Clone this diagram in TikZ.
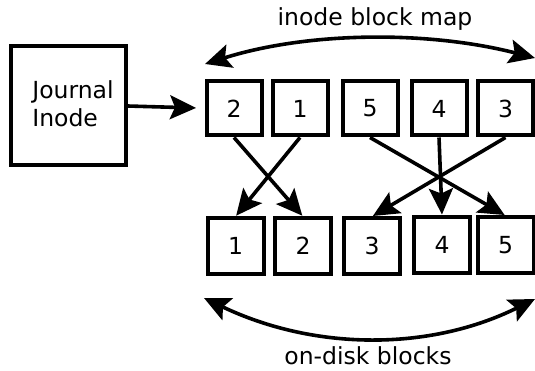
\documentclass[tikz,border=0pt]{standalone}
\usepackage{fontspec}
\setmainfont{DejaVu Sans}
\usetikzlibrary{arrows.meta}
\begin{document}
\begin{tikzpicture}[x=1pt,y=-1pt,
  every node/.style={font=\fontsize{23.5}{28}\selectfont},
  blockbox/.style={draw,line width=4pt,minimum width=55pt,minimum height=54pt,inner sep=0pt},
  diskbox/.style={draw,line width=4pt,minimum width=56pt,minimum height=55pt,inner sep=0pt},
  tip/.tip={Stealth[length=26pt,width=24pt,inset=5pt]},
  link/.style={line width=3.6pt,-tip,shorten >=1pt},
  span/.style={line width=3.6pt,tip-tip}]
\useasboundingbox (0,0) rectangle (535,371);

% journal inode
\node[draw,line width=4pt,minimum width=115pt,minimum height=119pt,inner sep=0pt] (jbox) at (68,106) {};
\node[align=left,inner sep=0pt] (jtext) at (73,104) {Journal\\Inode};
\coordinate (jtip) at (197,108);
\draw[link] (jbox.east) -- (jtip);

% inode block map
\node[blockbox] (t1) at (234,108.5) {2};
\node[blockbox] (t2) at (300,108.5) {1};
\node[blockbox] (t3) at (370,108.5) {5};
\node[blockbox] (t4) at (439,108.5) {4};
\node[blockbox] (t5) at (505.5,108.5) {3};

% on-disk blocks
\node[diskbox] (b1) at (235.5,246) {1};
\node[diskbox] (b2) at (303,246) {2};
\node[diskbox] (b3) at (372,246) {3};
\node[diskbox] (b4) at (442,245) {4};
\node[diskbox] (b5) at (505.5,245) {5};

% mapping
\draw[link] (t1.south) -- (b2.north);
\draw[link] (t2.south) -- (b1.north);
\draw[link] (t3.south) -- (b5.north);
\draw[link] (t4.south) -- (b4.north);
\draw[link] (t5.south) -- (b3.north);

% spans
\coordinate (mapL) at (205,64);
\coordinate (mapR) at (535,58);
\draw[span] (mapL) .. controls (310,31) and (430,31) .. (mapR);
\node (maplabel) at (375,19) {inode block map};

\coordinate (diskL) at (204,298);
\coordinate (diskR) at (535,299);
\draw[span] (diskL) .. controls (315,351) and (430,351) .. (diskR);
\node (disklabel) at (368,356) {on-disk blocks};
\end{tikzpicture}
\end{document}
